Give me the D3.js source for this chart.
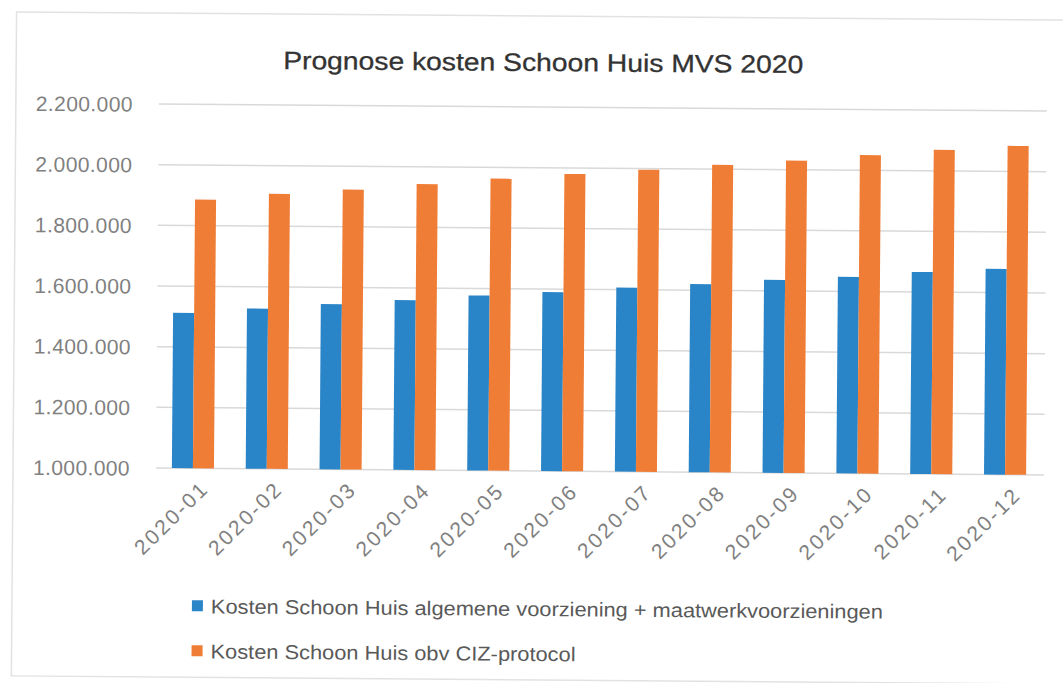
<!DOCTYPE html>
<html>
<head>
<meta charset="utf-8">
<script src="https://cdn.jsdelivr.net/npm/d3@7"></script>
<style>
  body { margin: 0; background: #fff; }
  text { font-family: "Liberation Sans", Arial, sans-serif; }
</style>
</head>
<body>
<svg id="chart" width="1063" height="683"></svg>
<script>
const width = 1063, height = 683;

// data
const months = ["2020-01","2020-02","2020-03","2020-04","2020-05","2020-06","2020-07","2020-08","2020-09","2020-10","2020-11","2020-12"];
const algemeen = [1512000,1528000,1545000,1560000,1577000,1590000,1607000,1620000,1636000,1648000,1666000,1678000];
const cizProtocol = [1886000,1907000,1923000,1943000,1963000,1980000,1996000,2014000,2030000,2050000,2069000,2084000];
const seriesNames = ["Kosten Schoon Huis algemene voorziening + maatwerkvoorzieningen", "Kosten Schoon Huis obv CIZ-protocol"];
const seriesColors = ["#2a84c8", "#f07d35"];
const yTicks = [1000000,1200000,1400000,1600000,1800000,2000000,2200000];
const title = "Prognose kosten Schoon Huis MVS 2020";

const plot = { left: 156, right: 1044, top: 104, bottom: 468 };

const svg = d3.select("#chart");
svg.append("rect").attr("width", width).attr("height", height).attr("fill", "#fff");

// the scan is a little tilted, so turn the whole chart a bit
const g = svg.append("g").attr("transform", `rotate(0.45, ${plot.left}, ${plot.bottom})`);

// chart border
g.append("rect").attr("x", 13).attr("y", 13).attr("width", 1065).attr("height", 664)
  .attr("fill", "none").attr("stroke", "#e2e2e2").attr("stroke-width", 1.5);

const y = d3.scaleLinear().domain([1000000, 2200000]).range([plot.bottom, plot.top]);
const x0 = d3.scaleBand().domain(months).range([plot.left, plot.right - 2]).paddingInner(0.43).paddingOuter(0.215);
const x1 = d3.scaleBand().domain([0, 1]).range([0, x0.bandwidth()]);

const fmt = v => d3.format(",")(v).replace(/,/g, ".");

// gridlines
g.append("g").selectAll("line").data(yTicks).join("line")
  .attr("x1", plot.left).attr("x2", plot.right)
  .attr("y1", d => y(d)).attr("y2", d => y(d))
  .attr("stroke", "#d9d9d9").attr("stroke-width", 1.5);

// y axis labels
const yAxis = g.append("g").attr("transform", `translate(${plot.left - 26},0)`)
  .call(d3.axisLeft(y).tickValues(yTicks).tickFormat(fmt).tickSize(0).tickPadding(0));
yAxis.select(".domain").remove();
yAxis.selectAll("text").attr("font-size", 21).attr("fill", "#808080").attr("letter-spacing", 0.4)
  .attr("font-family", "Liberation Sans, Arial, sans-serif").attr("dy", "0.35em");

// bars
const rows = months.map((m, i) => ({ m, vals: [algemeen[i], cizProtocol[i]] }));
g.append("g").selectAll("g").data(rows).join("g")
  .attr("transform", d => `translate(${x0(d.m)},0)`)
  .selectAll("rect").data(d => d.vals.map((v, k) => ({ v, k }))).join("rect")
  .attr("x", d => x1(d.k)).attr("width", x1.bandwidth())
  .attr("y", d => y(d.v)).attr("height", d => y(1000000) - y(d.v))
  .attr("fill", d => seriesColors[d.k]);

// x axis labels, turned 45 degrees
const xAxis = g.append("g").attr("transform", `translate(0,${plot.bottom + 18})`)
  .call(d3.axisBottom(x0).tickSize(0).tickPadding(0));
xAxis.select(".domain").remove();
xAxis.selectAll("text")
  .attr("font-size", 21).attr("fill", "#808080").attr("letter-spacing", 2.5)
  .attr("font-family", "Liberation Sans, Arial, sans-serif")
  .attr("text-anchor", "end").attr("dy", "0.7em").attr("x", 10).attr("y", 0)
  .attr("transform", "rotate(-45)");

// title
g.append("text").attr("x", 540).attr("y", 68).attr("text-anchor", "middle")
  .attr("font-size", 25).attr("fill", "#333")
  .attr("stroke", "#333").attr("stroke-width", 0.3)
  .attr("textLength", 520).attr("lengthAdjust", "spacingAndGlyphs")
  .text(title);

// legend
const legendX = 193, legendY = [606, 651], legendLen = [672, 365];
const lg = g.append("g").selectAll("g").data(seriesNames).join("g")
  .attr("transform", (d, i) => `translate(${legendX},${legendY[i]})`);
lg.append("rect").attr("x", 0).attr("y", -6).attr("width", 11).attr("height", 11)
  .attr("fill", (d, i) => seriesColors[i]);
lg.append("text").attr("x", 19).attr("y", 0).attr("dy", "0.35em")
  .attr("font-size", 20).attr("fill", "#595959")
  .attr("textLength", (d, i) => legendLen[i]).attr("lengthAdjust", "spacingAndGlyphs")
  .text(d => d);
</script>
</body>
</html>
